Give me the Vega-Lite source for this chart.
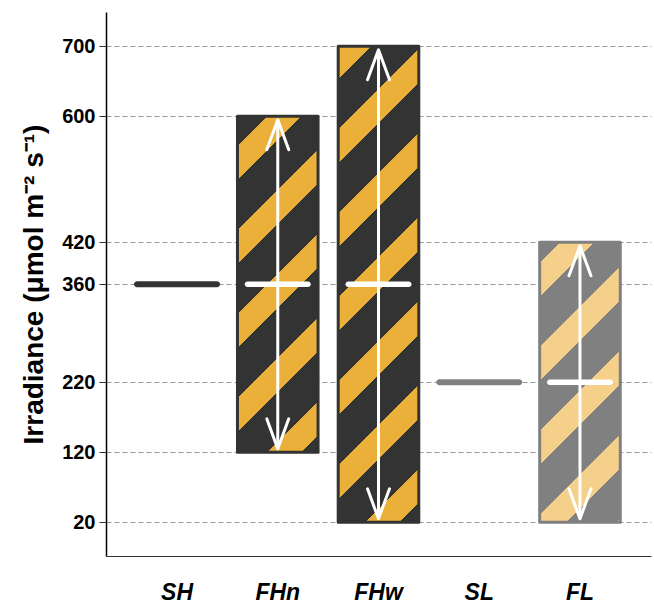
{
  "$schema": "https://vega.github.io/schema/vega-lite/v6.json",
  "width": 545,
  "height": 544,
  "autosize": "none",
  "padding": {"left": 106, "top": 12, "right": 3, "bottom": 50},
  "config": {
    "view": {"stroke": null},
    "font": "Liberation Sans"
  },
  "data": {
    "values": [
      {"cat": "SH", "mid": 360},
      {"cat": "FHn", "low": 120, "high": 600, "mid": 360, "arrowLow": 125, "arrowHigh": 595},
      {"cat": "FHw", "low": 20, "high": 700, "mid": 360, "arrowLow": 25, "arrowHigh": 695},
      {"cat": "SL", "mid": 220},
      {"cat": "FL", "low": 20, "high": 420, "mid": 220, "arrowLow": 25, "arrowHigh": 415}
    ]
  },
  "encoding": {
    "x": {
      "field": "cat",
      "type": "nominal",
      "sort": ["SH", "FHn", "FHw", "SL", "FL"],
      "scale": {"paddingInner": 0.2, "paddingOuter": 0.305},
      "axis": {
        "title": null,
        "labelAngle": 0,
        "ticks": false,
        "grid": false,
        "domainColor": "#333333",
        "domainWidth": 1.2,
        "labelFontSize": 23,
        "labelFontWeight": "bold",
        "labelFontStyle": "italic",
        "labelColor": "black",
        "labelPadding": 25
      }
    }
  },
  "layer": [
    {
      "transform": [{"filter": "datum.cat === 'FHn'"}],
      "mark": {
        "type": "bar",
        "stroke": "#333333",
        "strokeWidth": 3,
        "strokeJoin": "round",
        "fill": {
          "gradient": "linear",
          "x1": 0, "y1": 0, "x2": 0.28120, "y2": 1.17240,
          "stops": [
            {"offset": 0, "color": "#333333"},
            {"offset": 0.0720, "color": "#333333"},
            {"offset": 0.0720, "color": "#EBB03A"},
            {"offset": 0.1536, "color": "#EBB03A"},
            {"offset": 0.1536, "color": "#333333"},
            {"offset": 0.2736, "color": "#333333"},
            {"offset": 0.2736, "color": "#EBB03A"},
            {"offset": 0.3553, "color": "#EBB03A"},
            {"offset": 0.3553, "color": "#333333"},
            {"offset": 0.4753, "color": "#333333"},
            {"offset": 0.4753, "color": "#EBB03A"},
            {"offset": 0.5569, "color": "#EBB03A"},
            {"offset": 0.5569, "color": "#333333"},
            {"offset": 0.6769, "color": "#333333"},
            {"offset": 0.6769, "color": "#EBB03A"},
            {"offset": 0.7585, "color": "#EBB03A"},
            {"offset": 0.7585, "color": "#333333"},
            {"offset": 0.8786, "color": "#333333"},
            {"offset": 0.8786, "color": "#EBB03A"},
            {"offset": 0.9602, "color": "#EBB03A"},
            {"offset": 0.9602, "color": "#333333"},
            {"offset": 1, "color": "#333333"}
          ]
        }
      },
      "encoding": {
        "y": {
          "field": "low",
          "type": "quantitative",
          "scale": {"domain": [-28.14, 749], "nice": false, "zero": false},
          "axis": {
            "values": [20, 120, 220, 360, 420, 600, 700],
            "grid": true,
            "gridDash": [5, 3],
            "gridColor": "#999999",
            "gridWidth": 1,
            "domainColor": "black",
            "domainWidth": 1.5,
            "tickColor": "#333333",
            "tickSize": 7,
            "labelPadding": 4,
            "labelFontSize": 20,
            "labelFontWeight": "bold",
            "labelColor": "black",
            "title": "Irradiance (μmol m⁻² s⁻¹)",
            "titleFontSize": 28,
            "titleFontWeight": "bold",
            "titleColor": "black",
            "titlePadding": 13
          }
        },
        "y2": {"field": "high"}
      }
    },
    {
      "transform": [{"filter": "datum.cat === 'FHw'"}],
      "mark": {
        "type": "bar",
        "stroke": "#333333",
        "strokeWidth": 3,
        "strokeJoin": "round",
        "fill": {
          "gradient": "linear",
          "x1": 0, "y1": 0, "x2": 0.19245, "y2": 1.13672,
          "stops": [
            {"offset": 0, "color": "#EBB03A"},
            {"offset": 0.0593, "color": "#EBB03A"},
            {"offset": 0.0593, "color": "#333333"},
            {"offset": 0.1491, "color": "#333333"},
            {"offset": 0.1491, "color": "#EBB03A"},
            {"offset": 0.2102, "color": "#EBB03A"},
            {"offset": 0.2102, "color": "#333333"},
            {"offset": 0.3000, "color": "#333333"},
            {"offset": 0.3000, "color": "#EBB03A"},
            {"offset": 0.3611, "color": "#EBB03A"},
            {"offset": 0.3611, "color": "#333333"},
            {"offset": 0.4510, "color": "#333333"},
            {"offset": 0.4510, "color": "#EBB03A"},
            {"offset": 0.5120, "color": "#EBB03A"},
            {"offset": 0.5120, "color": "#333333"},
            {"offset": 0.6019, "color": "#333333"},
            {"offset": 0.6019, "color": "#EBB03A"},
            {"offset": 0.6630, "color": "#EBB03A"},
            {"offset": 0.6630, "color": "#333333"},
            {"offset": 0.7528, "color": "#333333"},
            {"offset": 0.7528, "color": "#EBB03A"},
            {"offset": 0.8139, "color": "#EBB03A"},
            {"offset": 0.8139, "color": "#333333"},
            {"offset": 0.9037, "color": "#333333"},
            {"offset": 0.9037, "color": "#EBB03A"},
            {"offset": 0.9648, "color": "#EBB03A"},
            {"offset": 0.9648, "color": "#333333"},
            {"offset": 1, "color": "#333333"}
          ]
        }
      },
      "encoding": {
        "y": {"field": "low", "type": "quantitative"},
        "y2": {"field": "high"}
      }
    },
    {
      "transform": [{"filter": "datum.cat === 'FL'"}],
      "mark": {
        "type": "bar",
        "stroke": "#808080",
        "strokeWidth": 3,
        "strokeJoin": "round",
        "fill": {
          "gradient": "linear",
          "x1": 0, "y1": 0, "x2": 0.34231, "y2": 1.18930,
          "stops": [
            {"offset": 0, "color": "#808080"},
            {"offset": 0.0582, "color": "#808080"},
            {"offset": 0.0582, "color": "#F5D08B"},
            {"offset": 0.1525, "color": "#F5D08B"},
            {"offset": 0.1525, "color": "#808080"},
            {"offset": 0.2912, "color": "#808080"},
            {"offset": 0.2912, "color": "#F5D08B"},
            {"offset": 0.3855, "color": "#F5D08B"},
            {"offset": 0.3855, "color": "#808080"},
            {"offset": 0.5241, "color": "#808080"},
            {"offset": 0.5241, "color": "#F5D08B"},
            {"offset": 0.6184, "color": "#F5D08B"},
            {"offset": 0.6184, "color": "#808080"},
            {"offset": 0.7571, "color": "#808080"},
            {"offset": 0.7571, "color": "#F5D08B"},
            {"offset": 0.8514, "color": "#F5D08B"},
            {"offset": 0.8514, "color": "#808080"},
            {"offset": 0.9900, "color": "#808080"},
            {"offset": 0.9900, "color": "#F5D08B"},
            {"offset": 1, "color": "#F5D08B"}
          ]
        }
      },
      "encoding": {
        "y": {"field": "low", "type": "quantitative"},
        "y2": {"field": "high"}
      }
    },
    {
      "transform": [{"filter": "datum.cat === 'SH' || datum.cat === 'SL'"}],
      "mark": {"type": "tick", "orient": "horizontal", "size": 86, "thickness": 6, "cornerRadius": 3, "opacity": 1},
      "encoding": {
        "y": {"field": "mid", "type": "quantitative"},
        "color": {
          "field": "cat",
          "type": "nominal",
          "scale": {"domain": ["SH", "SL"], "range": ["#333333", "#808080"]},
          "legend": null
        }
      }
    },
    {
      "transform": [{"filter": "datum.low != null"}],
      "mark": {"type": "tick", "orient": "horizontal", "size": 66, "thickness": 5.5, "cornerRadius": 2.75, "color": "white", "opacity": 1},
      "encoding": {
        "y": {"field": "mid", "type": "quantitative"}
      }
    },
    {
      "transform": [{"filter": "datum.low != null"}],
      "mark": {"type": "rule", "color": "white", "strokeWidth": 3},
      "encoding": {
        "y": {"field": "arrowLow", "type": "quantitative"},
        "y2": {"field": "arrowHigh"}
      }
    },
    {
      "transform": [{"filter": "datum.low != null"}],
      "mark": {"type": "point", "shape": "M-0.733,2L0,0L0.733,2", "size": 900, "filled": false, "stroke": "white", "strokeWidth": 3, "strokeCap": "round", "strokeJoin": "round", "opacity": 1},
      "encoding": {
        "y": {"field": "arrowHigh", "type": "quantitative"}
      }
    },
    {
      "transform": [{"filter": "datum.low != null"}],
      "mark": {"type": "point", "shape": "M-0.733,-2L0,0L0.733,-2", "size": 900, "filled": false, "stroke": "white", "strokeWidth": 3, "strokeCap": "round", "strokeJoin": "round", "opacity": 1},
      "encoding": {
        "y": {"field": "arrowLow", "type": "quantitative"}
      }
    }
  ]
}
